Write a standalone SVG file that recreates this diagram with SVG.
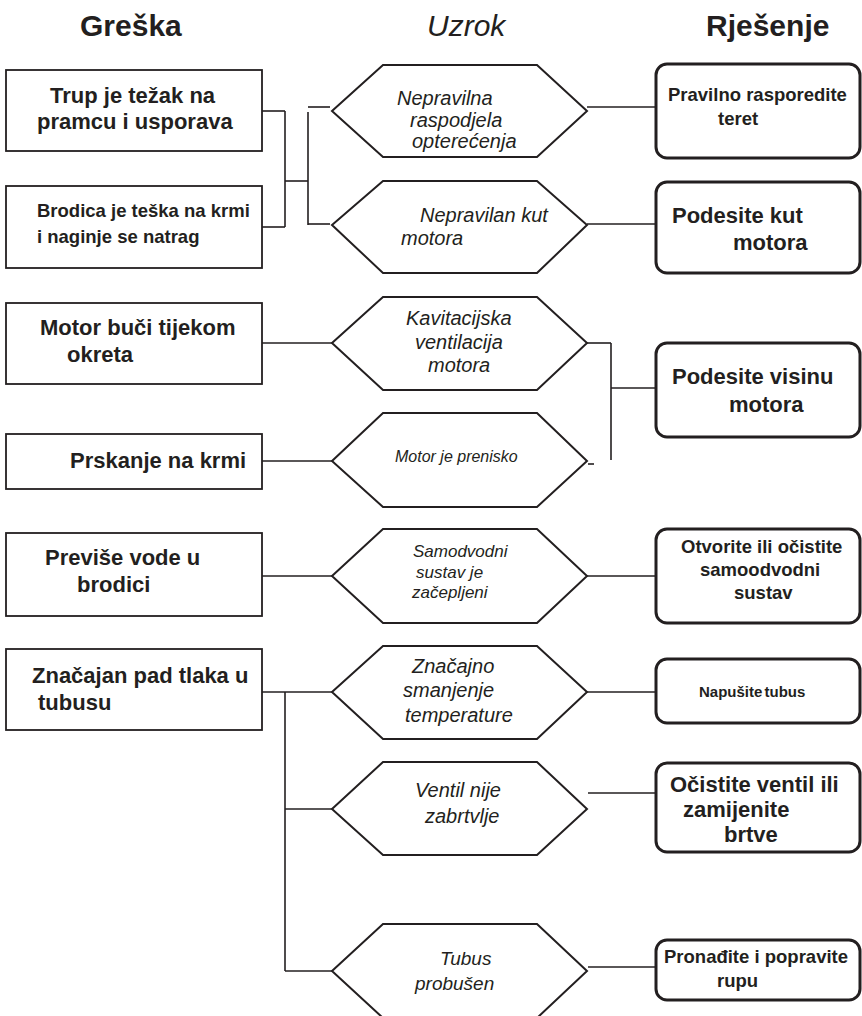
<svg xmlns="http://www.w3.org/2000/svg" width="862" height="1016" viewBox="0 0 862 1016">
<style>
.box{fill:#fff;stroke:#231f20;stroke-width:1.8}
.rbox{fill:#fff;stroke:#231f20;stroke-width:3}
.hex{fill:#fff;stroke:#231f20;stroke-width:2}
.con line{stroke:#231f20;stroke-width:1.6;fill:none}
text{font-family:"Liberation Sans",Arial,sans-serif;fill:#231f20}
.b{font-weight:bold}
.i{font-style:italic}
.t{font-size:30px}
</style>
<rect width="862" height="1016" fill="#fff"/>
<g id="headers">
<text class="b t" x="80" y="36">Greška</text>
<text class="i t" x="427" y="36">Uzrok</text>
<text class="b t" x="706" y="36">Rješenje</text>
</g>
<g id="connectors" class="con">
<line x1="262" y1="111" x2="285" y2="111"/>
<line x1="285" y1="111" x2="285" y2="227"/>
<line x1="262" y1="227" x2="285" y2="227"/>
<line x1="285" y1="181" x2="308" y2="181"/>
<line x1="308" y1="112" x2="308" y2="225"/>
<line x1="308" y1="107" x2="330" y2="107"/>
<line x1="308" y1="224" x2="330" y2="224"/>
<line x1="587" y1="107" x2="655" y2="107"/>
<line x1="587" y1="224" x2="655" y2="224"/>
<line x1="262" y1="343" x2="332" y2="343"/>
<line x1="587" y1="343" x2="611" y2="343"/>
<line x1="611" y1="343" x2="611" y2="460"/>
<line x1="611" y1="388" x2="655" y2="388"/>
<line x1="262" y1="461" x2="332" y2="461"/>
<line x1="588" y1="464" x2="594" y2="464"/>
<line x1="262" y1="576" x2="332" y2="576"/>
<line x1="587" y1="576" x2="655" y2="576"/>
<line x1="262" y1="692" x2="332" y2="692"/>
<line x1="285" y1="692" x2="285" y2="971"/>
<line x1="285" y1="809" x2="332" y2="809"/>
<line x1="285" y1="971" x2="332" y2="971"/>
<line x1="587" y1="692" x2="655" y2="692"/>
<line x1="588" y1="793" x2="655" y2="793"/>
<line x1="588" y1="967" x2="655" y2="967"/>
</g>
<g id="e1"><rect class="box" x="6" y="70" width="256" height="81"/>
<text class="b" font-size="22" x="50" y="103">Trup je težak na</text>
<text class="b" font-size="22" x="37" y="129">pramcu i usporava</text></g>
<g id="e2"><rect class="box" x="6" y="186" width="256" height="82"/>
<text class="b" font-size="18.5" x="37" y="217">Brodica je teška na krmi</text>
<text class="b" font-size="18.5" x="37" y="243">i naginje se natrag</text></g>
<g id="e3"><rect class="box" x="6" y="303" width="256" height="81"/>
<text class="b" font-size="22" x="40" y="335">Motor buči tijekom</text>
<text class="b" font-size="22" x="67" y="362">okreta</text></g>
<g id="e4"><rect class="box" x="6" y="434" width="256" height="55"/>
<text class="b" font-size="22" x="70" y="468">Prskanje na krmi</text></g>
<g id="e5"><rect class="box" x="6" y="533" width="256" height="83"/>
<text class="b" font-size="22" x="45" y="565">Previše vode u</text>
<text class="b" font-size="22" x="77" y="592">brodici</text></g>
<g id="e6"><rect class="box" x="6" y="649" width="256" height="81"/>
<text class="b" font-size="22" x="32" y="683">Značajan pad tlaka u</text>
<text class="b" font-size="22" x="38" y="710">tubusu</text></g>
<g id="c1"><polygon class="hex" points="332,111 383,65 537,65 587,111 537,157 383,157"/>
<text class="i" font-size="20" x="397" y="105">Nepravilna</text>
<text class="i" font-size="20" x="410" y="127">raspodjela</text>
<text class="i" font-size="20" x="412" y="148">opterećenja</text></g>
<g id="c2"><polygon class="hex" points="332,225 383,181 537,181 587,225 537,273 383,273"/>
<text class="i" font-size="20" x="420" y="222">Nepravilan kut</text>
<text class="i" font-size="20" x="401" y="245">motora</text></g>
<g id="c3"><polygon class="hex" points="332,343 383,297 537,297 587,343 537,390 383,390"/>
<text class="i" font-size="20" x="406" y="325">Kavitacijska</text>
<text class="i" font-size="20" x="415" y="349">ventilacija</text>
<text class="i" font-size="20" x="428" y="372">motora</text></g>
<g id="c4"><polygon class="hex" points="332,461 383,413 537,413 587,461 537,507 383,507"/>
<text class="i" font-size="16" x="395" y="462">Motor je prenisko</text></g>
<g id="c5"><polygon class="hex" points="332,576 383,529 537,529 587,576 537,623 383,623"/>
<text class="i" font-size="17" x="413" y="557">Samodvodni</text>
<text class="i" font-size="17" x="416" y="578">sustav je</text>
<text class="i" font-size="17" x="412" y="598">začepljeni</text></g>
<g id="c6"><polygon class="hex" points="332,692 383,646 537,646 587,692 537,739 383,739"/>
<text class="i" font-size="20" x="412" y="673">Značajno</text>
<text class="i" font-size="20" x="403" y="697">smanjenje</text>
<text class="i" font-size="20" x="405" y="722">temperature</text></g>
<g id="c7"><polygon class="hex" points="332,809 383,762 537,762 587,809 537,855 383,855"/>
<text class="i" font-size="20" x="415" y="797">Ventil nije</text>
<text class="i" font-size="20" x="425" y="823">zabrtvlje</text></g>
<g id="c8"><polygon class="hex" points="332,971 383,924 537,924 587,971 537,1018 383,1018"/>
<text class="i" font-size="19" x="440" y="965">Tubus</text>
<text class="i" font-size="19" x="415" y="990">probušen</text></g>
<g id="s1"><rect class="rbox" x="656" y="64" width="204" height="94" rx="11"/>
<text class="b" font-size="18.5" x="668" y="101">Pravilno rasporedite</text>
<text class="b" font-size="18.5" x="718" y="125">teret</text></g>
<g id="s2"><rect class="rbox" x="656" y="182" width="204" height="91" rx="11"/>
<text class="b" font-size="22" x="672" y="223">Podesite kut</text>
<text class="b" font-size="22" x="733" y="250">motora</text></g>
<g id="s3"><rect class="rbox" x="656" y="343" width="204" height="94" rx="11"/>
<text class="b" font-size="22" x="672" y="384">Podesite visinu</text>
<text class="b" font-size="22" x="729" y="412">motora</text></g>
<g id="s5"><rect class="rbox" x="656" y="529" width="204" height="94" rx="11"/>
<text class="b" font-size="18.5" x="681" y="553">Otvorite ili očistite</text>
<text class="b" font-size="18.5" x="700" y="576">samoodvodni</text>
<text class="b" font-size="18.5" x="734" y="599">sustav</text></g>
<g id="s6"><rect class="rbox" x="656" y="659" width="204" height="64" rx="11"/>
<text class="b" font-size="15" x="699" y="697" word-spacing="-2">Napušite tubus</text></g>
<g id="s7"><rect class="rbox" x="656" y="763" width="204" height="89" rx="11"/>
<text class="b" font-size="22" x="670" y="792">Očistite ventil ili</text>
<text class="b" font-size="22" x="683" y="817">zamijenite</text>
<text class="b" font-size="22" x="724" y="842">brtve</text></g>
<g id="s8"><rect class="rbox" x="656" y="940" width="204" height="60" rx="11"/>
<text class="b" font-size="18.5" x="664" y="963">Pronađite i popravite</text>
<text class="b" font-size="18.5" x="717" y="987">rupu</text></g>
</svg>
